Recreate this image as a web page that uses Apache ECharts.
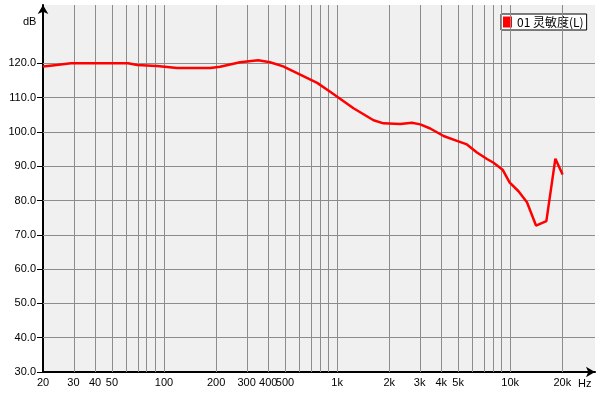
<!DOCTYPE html>
<html>
<head>
<meta charset="utf-8">
<script src="https://cdn.jsdelivr.net/npm/echarts@6/dist/echarts.min.js"></script>
<style>
html,body{margin:0;padding:0;background:#fff;}
#chart{width:600px;height:400px;}
</style>
</head>
<body>
<div id="chart"></div>
<script>
// Frequency (Hz) and sensitivity (dB)
var freqs = [20, 24, 29, 62, 70, 91, 101, 119, 185, 211, 275, 350, 410, 488, 612, 767, 912, 1244, 1624, 1854, 2316, 2706, 3022, 3452, 4122, 4924, 5624, 6426, 7345, 8016, 9040, 9914, 11169, 12500, 14100, 16180, 18240, 20080];
var dbValues = [119.1, 119.5, 120.0, 120.0, 119.5, 119.2, 119.0, 118.6, 118.6, 119.0, 120.3, 120.9, 120.3, 119.1, 116.7, 114.3, 111.7, 106.9, 103.4, 102.5, 102.3, 102.65, 102.2, 101.0, 98.8, 97.4, 96.35, 94.0, 92.1, 91.0, 89.0, 85.3, 82.7, 79.5, 72.7, 74.0, 92.2, 87.6];
var seriesName = '01 灵敏度(L)';

// Axis ticks and grid lines
var xTickFreqs = [20, 30, 40, 50, 100, 200, 300, 400, 500, 1000, 2000, 3000, 4000, 5000, 10000, 20000];
var xGridFreqs = [30, 40, 50, 60, 70, 80, 90, 100, 200, 300, 400, 500, 600, 700, 800, 900, 1000, 2000, 3000, 4000, 5000, 6000, 7000, 8000, 9000, 10000, 20000];
var yTicks = [30, 40, 50, 60, 70, 80, 90, 100, 110, 120];
var yGrid = [40, 50, 60, 70, 80, 90, 100, 110, 120];

var lg = function (v) { return Math.log10(v); };
var xMin = lg(20);
var xMax = lg(20) + 552 / 173.1;

var data = freqs.map(function (f, i) { return [lg(f), dbValues[i]]; });
var gridLines = xGridFreqs.map(function (f) { return { xAxis: lg(f) }; })
  .concat(yGrid.map(function (v) { return { yAxis: v }; }));

var font = 'Liberation Sans, DejaVu Sans, sans-serif';
var chart = echarts.init(document.getElementById('chart'), null, { renderer: 'canvas' });
chart.setOption({
  animation: false,
  backgroundColor: '#ffffff',
  grid: { left: 43, right: 5, top: 5, bottom: 28, show: true, backgroundColor: '#f0f0f0', borderWidth: 0 },
  legend: {
    data: [seriesName],
    left: 501, top: 14,
    backgroundColor: '#ffffff', borderColor: '#000000', borderWidth: 1, borderRadius: 0,
    padding: [2, 3, 2, 2],
    icon: 'rect', itemWidth: 9, itemHeight: 11,
    textStyle: { fontSize: 12, color: '#000', fontFamily: 'Noto Sans CJK SC, sans-serif' }
  },
  xAxis: {
    type: 'value', min: xMin, max: xMax,
    axisLine: { show: true, lineStyle: { color: '#000', width: 2 }, symbol: ['none', 'arrow'], symbolSize: [8, 9] },
    axisTick: { show: false },
    splitLine: { show: false },
    axisLabel: {
      customValues: xTickFreqs.map(lg), margin: 5,
      color: '#000', fontSize: 11, fontFamily: font,
      formatter: function (v) {
        var f = Math.round(Math.pow(10, v));
        return f >= 1000 ? (f / 1000) + 'k' : String(f);
      }
    }
  },
  yAxis: {
    type: 'value', min: 30, max: 137,
    axisLine: { show: true, lineStyle: { color: '#000', width: 2 }, symbol: ['none', 'arrow'], symbolSize: [8, 9] },
    axisTick: { show: true, customValues: yTicks, length: 6, lineStyle: { color: '#000', width: 1 } },
    splitLine: { show: false },
    axisLabel: {
      customValues: yTicks, margin: 7,
      color: '#000', fontSize: 11, fontFamily: font,
      formatter: function (v) { return v.toFixed(1); }
    }
  },
  graphic: [
    { type: 'text', left: 23, top: 16, style: { text: 'dB', fontSize: 11, fontFamily: font, fill: '#000' } },
    { type: 'text', left: 578, top: 378, style: { text: 'Hz', fontSize: 11, fontFamily: font, fill: '#000' } }
  ],
  series: [
    {
      name: 'grid', type: 'line', data: data, z: 1, silent: true,
      showSymbol: false, lineStyle: { opacity: 0 }, itemStyle: { opacity: 0 },
      markLine: {
        silent: true, symbol: ['none', 'none'], animation: false,
        label: { show: false },
        lineStyle: { color: '#8c8c8c', width: 1, type: 'solid' },
        emphasis: { disabled: true },
        data: gridLines
      }
    },
    {
      name: seriesName, type: 'line', data: data, z: 5,
      showSymbol: false, smooth: false,
      lineStyle: { color: '#ff0000', width: 2.5 },
      itemStyle: { color: '#ff0000' }
    }
  ]
});
</script>
</body>
</html>
